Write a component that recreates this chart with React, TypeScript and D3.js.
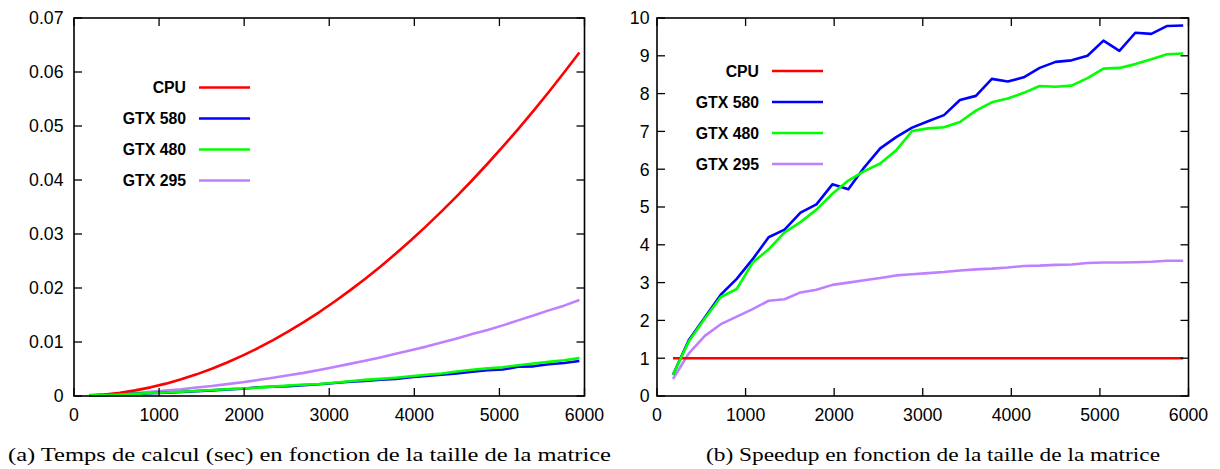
import React from "react";
import * as d3 from "d3";

// Matrix sizes (x values)
const sizes = [180, 360, 540, 720, 900, 1080, 1260, 1440, 1620, 1800, 1980, 2160, 2340, 2520, 2700, 2880, 3060, 3240, 3420, 3600, 3780, 3960, 4140, 4320, 4500, 4680, 4860, 5040, 5220, 5400, 5580, 5760, 5940];

// (a) computation time (sec)
const timeCPU = [0.000069, 0.000269, 0.000593, 0.00104, 0.0016, 0.00229, 0.00309, 0.00401, 0.00505, 0.0062, 0.00747, 0.00885, 0.01034, 0.01195, 0.01367, 0.0155, 0.01745, 0.01951, 0.02167, 0.02395, 0.02634, 0.02884, 0.03146, 0.03418, 0.03701, 0.03995, 0.04301, 0.04617, 0.04944, 0.05281, 0.0563, 0.0599, 0.0636];
const timeGTX580 = [0.000124, 0.000182, 0.000285, 0.000388, 0.000516, 0.000633, 0.000736, 0.000911, 0.001041, 0.001223, 0.001334, 0.001618, 0.001709, 0.001824, 0.001996, 0.002183, 0.0024, 0.002626, 0.002768, 0.003016, 0.003139, 0.003466, 0.003732, 0.003938, 0.004187, 0.004499, 0.004779, 0.004912, 0.005415, 0.005495, 0.005877, 0.006119, 0.00649];
const timeGTX480 = [0.000124, 0.000186, 0.000289, 0.000397, 0.000565, 0.000649, 0.000796, 0.000926, 0.001098, 0.001258, 0.001396, 0.001553, 0.001738, 0.001943, 0.002103, 0.002211, 0.002465, 0.002744, 0.002989, 0.003172, 0.00339, 0.003665, 0.003923, 0.004168, 0.004524, 0.004866, 0.005114, 0.005331, 0.005696, 0.006015, 0.006319, 0.006626, 0.00702];
const timeGTX295 = [0.000165, 0.000238, 0.000373, 0.000547, 0.000762, 0.000996, 0.001226, 0.001566, 0.001843, 0.002206, 0.002541, 0.00295, 0.003379, 0.00383, 0.004285, 0.004814, 0.005369, 0.005948, 0.006527, 0.007149, 0.007816, 0.008482, 0.009145, 0.009907, 0.010666, 0.01148, 0.012219, 0.013079, 0.014006, 0.014918, 0.015859, 0.016732, 0.017765];

// (b) speedup
const speedCPU = [1, 1, 1, 1, 1, 1, 1, 1, 1, 1, 1, 1, 1, 1, 1, 1, 1, 1, 1, 1, 1, 1, 1, 1, 1, 1, 1, 1, 1, 1, 1, 1, 1];
const speedGTX580 = [0.56, 1.48, 2.08, 2.68, 3.1, 3.62, 4.2, 4.4, 4.85, 5.07, 5.6, 5.47, 6.05, 6.55, 6.85, 7.1, 7.27, 7.43, 7.83, 7.94, 8.39, 8.32, 8.43, 8.68, 8.84, 8.88, 9.0, 9.4, 9.13, 9.61, 9.58, 9.79, 9.8];
const speedGTX480 = [0.56, 1.45, 2.05, 2.62, 2.83, 3.53, 3.88, 4.33, 4.6, 4.93, 5.35, 5.7, 5.95, 6.15, 6.5, 7.01, 7.08, 7.11, 7.25, 7.55, 7.77, 7.87, 8.02, 8.2, 8.18, 8.21, 8.41, 8.66, 8.68, 8.78, 8.91, 9.04, 9.06];
const speedGTX295 = [0.45, 1.13, 1.59, 1.9, 2.1, 2.3, 2.52, 2.56, 2.74, 2.81, 2.94, 3.0, 3.06, 3.12, 3.19, 3.22, 3.25, 3.28, 3.32, 3.35, 3.37, 3.4, 3.44, 3.45, 3.47, 3.48, 3.52, 3.53, 3.53, 3.54, 3.55, 3.58, 3.58];

const seriesNames = ["CPU", "GTX 580", "GTX 480", "GTX 295"];
const seriesColors = ["#ff0000", "#0000ff", "#00ff00", "#bf80ff"];

const xTicks = [0, 1000, 2000, 3000, 4000, 5000, 6000];
const yTicksA = [0, 0.01, 0.02, 0.03, 0.04, 0.05, 0.06, 0.07];
const yTicksB = [0, 1, 2, 3, 4, 5, 6, 7, 8, 9, 10];

const captionA = "(a) Temps de calcul (sec) en fonction de la taille de la matrice";
const captionB = "(b) Speedup en fonction de la taille de la matrice";

type PanelProps = {
  left: number;
  right: number;
  top: number;
  bottom: number;
  yMax: number;
  yTicks: number[];
  yFormat: (v: number) => string;
  yLabelGap: number;
  series: number[][];
  legendTextX: number;
  legendLineX0: number;
  legendLineX1: number;
  legendY0: number;
  caption: string;
  captionX0: number;
  captionWidth: number;
};

const FONT = "'Liberation Sans', Arial, Helvetica, sans-serif";

function Panel(p: PanelProps) {
  const x = d3.scaleLinear().domain([0, 6000]).range([p.left, p.right]);
  const y = d3.scaleLinear().domain([0, p.yMax]).range([p.bottom, p.top]);
  const line = d3
    .line<number>()
    .x((_, i) => x(sizes[i]))
    .y((d) => y(d));
  const tl = 8;
  return (
    <g>
      {[3, 0, 1, 2].map((si) => (
        <path
          key={si}
          d={line(p.series[si]) || ""}
          fill="none"
          stroke={seriesColors[si]}
          strokeWidth={2.6}
          strokeLinejoin="round"
        />
      ))}
      <rect
        x={p.left}
        y={p.top}
        width={p.right - p.left}
        height={p.bottom - p.top}
        fill="none"
        stroke="#000"
        strokeWidth={1.6}
      />
      {xTicks.map((t) => (
        <g key={"x" + t}>
          <line x1={x(t)} x2={x(t)} y1={p.bottom} y2={p.bottom - tl} stroke="#000" strokeWidth={1.3} />
          <line x1={x(t)} x2={x(t)} y1={p.top} y2={p.top + tl} stroke="#000" strokeWidth={1.3} />
          <text
            x={x(t)}
            y={p.bottom + 25}
            textAnchor="middle"
            fontFamily={FONT}
            fontSize={17.7}
            fill="#000"
          >
            {t}
          </text>
        </g>
      ))}
      {p.yTicks.map((t) => (
        <g key={"y" + t}>
          <line x1={p.left} x2={p.left + tl} y1={y(t)} y2={y(t)} stroke="#000" strokeWidth={1.3} />
          <line x1={p.right} x2={p.right - tl} y1={y(t)} y2={y(t)} stroke="#000" strokeWidth={1.3} />
          <text
            x={p.left - p.yLabelGap}
            y={y(t) + 6.3}
            textAnchor="end"
            fontFamily={FONT}
            fontSize={17.7}
            fill="#000"
          >
            {p.yFormat(t)}
          </text>
        </g>
      ))}
      {seriesNames.map((name, i) => {
        const ly = p.legendY0 + i * 31;
        return (
          <g key={name}>
            <text
              x={p.legendTextX}
              y={ly + 5.6}
              textAnchor="end"
              fontFamily={FONT}
              fontWeight="bold"
              fontSize={15.8}
              fill="#000"
            >
              {name}
            </text>
            <line
              x1={p.legendLineX0}
              x2={p.legendLineX1}
              y1={ly}
              y2={ly}
              stroke={seriesColors[i]}
              strokeWidth={2.6}
            />
          </g>
        );
      })}
      <text
        x={p.captionX0}
        y={461}
        textLength={p.captionWidth}
        lengthAdjust="spacingAndGlyphs"
        fontFamily="'Liberation Serif', 'Times New Roman', serif"
        fontSize={19}
        fill="#000"
      >
        {p.caption}
      </text>
    </g>
  );
}

export default function App() {
  return (
    <svg
      width={1220}
      height={469}
      style={{ position: "absolute", left: 0, top: 0, background: "#fff" }}
    >
      <rect x={0} y={0} width={1220} height={469} fill="#fff" />
      <Panel
        left={74}
        right={584.5}
        top={18}
        bottom={396}
        yMax={0.07}
        yTicks={yTicksA}
        yFormat={(v) => (v === 0 ? "0" : d3.format(".2f")(v))}
        yLabelGap={10.5}
        series={[timeCPU, timeGTX580, timeGTX480, timeGTX295]}
        legendTextX={186}
        legendLineX0={199}
        legendLineX1={250}
        legendY0={87.5}
        caption={captionA}
        captionX0={8}
        captionWidth={603}
      />
      <Panel
        left={657}
        right={1188.5}
        top={18}
        bottom={396}
        yMax={10}
        yTicks={yTicksB}
        yFormat={(v) => String(v)}
        yLabelGap={7.5}
        series={[speedCPU, speedGTX580, speedGTX480, speedGTX295]}
        legendTextX={759}
        legendLineX0={772}
        legendLineX1={823}
        legendY0={71}
        caption={captionB}
        captionX0={706}
        captionWidth={454}
      />
    </svg>
  );
}
